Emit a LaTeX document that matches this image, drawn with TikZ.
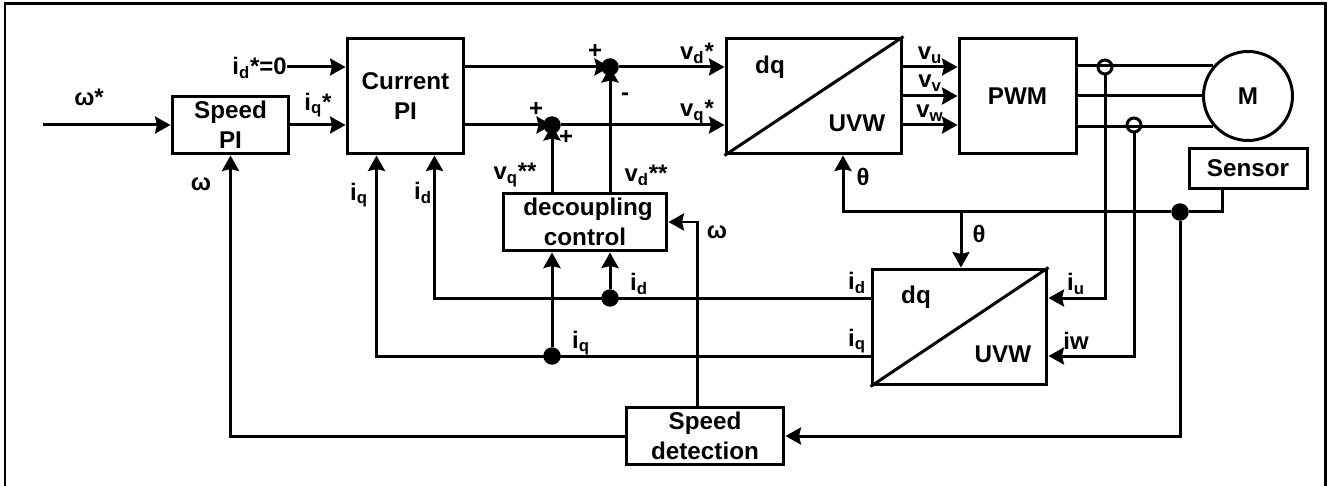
\documentclass[tikz,border=0pt]{standalone}
\usepackage{fontspec}
\setmainfont{Liberation Sans}
\usepackage{xcolor}
\usepackage{tikz}
\usetikzlibrary{arrows.meta, calc}
\tikzset{
  block/.style={rectangle, draw=black, align=center, inner sep=0pt,
    font=\fontsize{13.8}{17}\selectfont\bfseries, line width=0.06cm},
  lbl/.style={inner sep=0pt, font=\fontsize{13.6}{15}\selectfont\bfseries},
  dot/.style={circle, fill=black, inner sep=0pt, minimum size=0.35cm},
  ring/.style={circle, draw=black, inner sep=0pt, minimum size=0.28cm, line width=0.06cm},
  arrow/.style={-{Stealth[length=0.31cm, width=0.34cm, inset=0.04cm]}, line width=0.06cm, color=black},
  line/.style={line width=0.06cm, color=black}
}

\begin{document}
\begin{tikzpicture}[x=0.02cm, y=-0.02cm]

  \useasboundingbox (0,0) rectangle (1328,486);
  \draw[line] (5,486) |- (1325,4) -- (1325,486);

  \node[block, minimum width=2.34cm, minimum height=1.16cm] (spi) at (230.5,125) {Speed\\PI};
  \node[block, minimum width=2.34cm, minimum height=2.32cm] (cur) at (405.5,96) {Current\\PI};
  \node[block, minimum width=3.52cm, minimum height=2.32cm] (dqa) at (814,96) {};
  \node[block, minimum width=2.34cm, minimum height=2.32cm] (pwm) at (1017.5,96) {PWM};
  \node[block, circle, minimum size=1.78cm] (mot) at (1248,96) {M};
  \node[block, minimum width=2.36cm, minimum height=0.82cm] (sen) at (1248,168.5) {Sensor};
  \node[block, minimum width=3.28cm, minimum height=1.16cm] (dec) at (585,222) {\hspace*{0.12cm}decoupling\\control};
  \node[block, minimum width=3.5cm, minimum height=2.32cm] (dqb) at (959.5,327) {};
  \node[block, minimum width=3.16cm, minimum height=1.16cm] (spd) at (705,436) {Speed\\detection};

  \node[dot] (sd) at (610,67) {};
  \node[dot] (sq) at (552,125) {};
  \node[dot] (jd) at (610,298) {};
  \node[dot] (jq) at (552,356) {};
  \node[dot] (jt) at (1180,212) {};
  \node[ring] (ru) at (1105,67) {};
  \node[ring] (rw) at (1134,125) {};

  \coordinate (win) at (43,125);
  \coordinate (cid) at (434.5,155.5);
  \coordinate (ciq) at (376.5,155.5);
  \coordinate (sout) at (1222,190);
  \coordinate (dth) at (843,155.5);
  \coordinate (jth) at (961,212);
  \coordinate (somega) at (697,405.5);

  \node[lbl] (lw) at (89,97) {ω*};
  \node[lbl, anchor=east] (lidz) at (287,68) {i\textsubscript{d}*=0};
  \node[lbl] (liqs) at (318,105) {i\textsubscript{q}*};
  \node[lbl] (lwa) at (201,184) {ω};
  \node[lbl] (liqa) at (359,195) {i\textsubscript{q}};
  \node[lbl] (lida) at (423,193) {i\textsubscript{d}};
  \node[lbl] (lvds) at (697,53) {v\textsubscript{d}*};
  \node[lbl] (lvqs) at (697,112) {v\textsubscript{q}*};
  \node[lbl] (lpa) at (595,51) {+};
  \node[lbl] (lma) at (625,97) {-};
  \node[lbl] (lpb) at (536,109) {+};
  \node[lbl] (lpc) at (566,137) {+};
  \node[lbl] (lvqq) at (515,175) {v\textsubscript{q}**};
  \node[lbl] (lvdd) at (646,175) {v\textsubscript{d}**};
  \node[lbl] (lwb) at (717,232) {ω};
  \node[lbl] (lta) at (863,177) {θ};
  \node[lbl] (ltb) at (979,234) {θ};
  \node[lbl] (lvu) at (930,55) {v\textsubscript{u}};
  \node[lbl] (lvv) at (930,83) {v\textsubscript{v}};
  \node[lbl] (lvw) at (930,113) {v\textsubscript{w}};
  \node[lbl] (lidb) at (639,284) {i\textsubscript{d}};
  \node[lbl] (liqb) at (581,343) {i\textsubscript{q}};
  \node[lbl] (lidc) at (857,283) {i\textsubscript{d}};
  \node[lbl] (liqc) at (857,341) {i\textsubscript{q}};
  \node[lbl] (liu) at (1076,284) {i\textsubscript{u}};
  \node[lbl] (liw) at (1076,341) {iw};
  \node[block, draw=none] (ldqa) at (770,67) {dq};
  \node[block, draw=none] (luva) at (857,123) {UVW};
  \node[block, draw=none] (ldqb) at (916,297) {dq};
  \node[block, draw=none] (luvb) at (1003,354) {UVW};

  \draw[line] (dqa.south west) -- (dqa.north east);
  \draw[line] (dqb.south west) -- (dqb.north east);

  \draw[arrow] (win) -- (spi);
  \draw[arrow] (spi.east) -- (cur.west |- spi.east);
  \draw[arrow] (lidz.east |- sd) -- (cur.west |- sd);
  \draw[arrow] (cur.east |- sd) -- (sd.center);
  \draw[arrow] (cur.east |- sq) -- (sq.center);
  \draw[arrow] (sd) -- (dqa.west |- sd);
  \draw[arrow] (sq) -- (dqa.west |- sq);
  \draw[arrow] (sd |- dec.north) -- (sd.center);
  \draw[arrow] (sq |- dec.north) -- (sq.center);

  \draw[arrow] (dqa.east |- sd) -- (pwm.west |- sd);
  \draw[arrow] (dqa.east) -- (pwm.west);
  \draw[arrow] (dqa.east |- sq) -- (pwm.west |- sq);
  \draw[line] (pwm.east |- mot.139) -- (mot.139);
  \draw[line] (pwm.east) -- (mot.west);
  \draw[line] (pwm.east |- mot.221) -- (mot.221);

  \draw[arrow] (ru.south) |- (dqb.east |- jd);
  \draw[arrow] (rw.south) |- (dqb.east |- jq);
  \draw[arrow] (dqb.west |- jd) -| (cid);
  \draw[arrow] (dqb.west |- jq) -| (ciq);
  \draw[arrow] (jd) -- (jd |- dec.south);
  \draw[arrow] (jq) -- (jq |- dec.south);

  \draw[line] (sout) |- (jt);
  \draw[arrow] (jt) -| (dth);
  \draw[arrow] (jth) -- (jth |- dqb.north);
  \draw[arrow] (jt) |- (spd.east);
  \draw[arrow] (spd.west) -| (spi.south);
  \draw[arrow] (somega) |- (dec.east);

\end{tikzpicture}
\end{document}
